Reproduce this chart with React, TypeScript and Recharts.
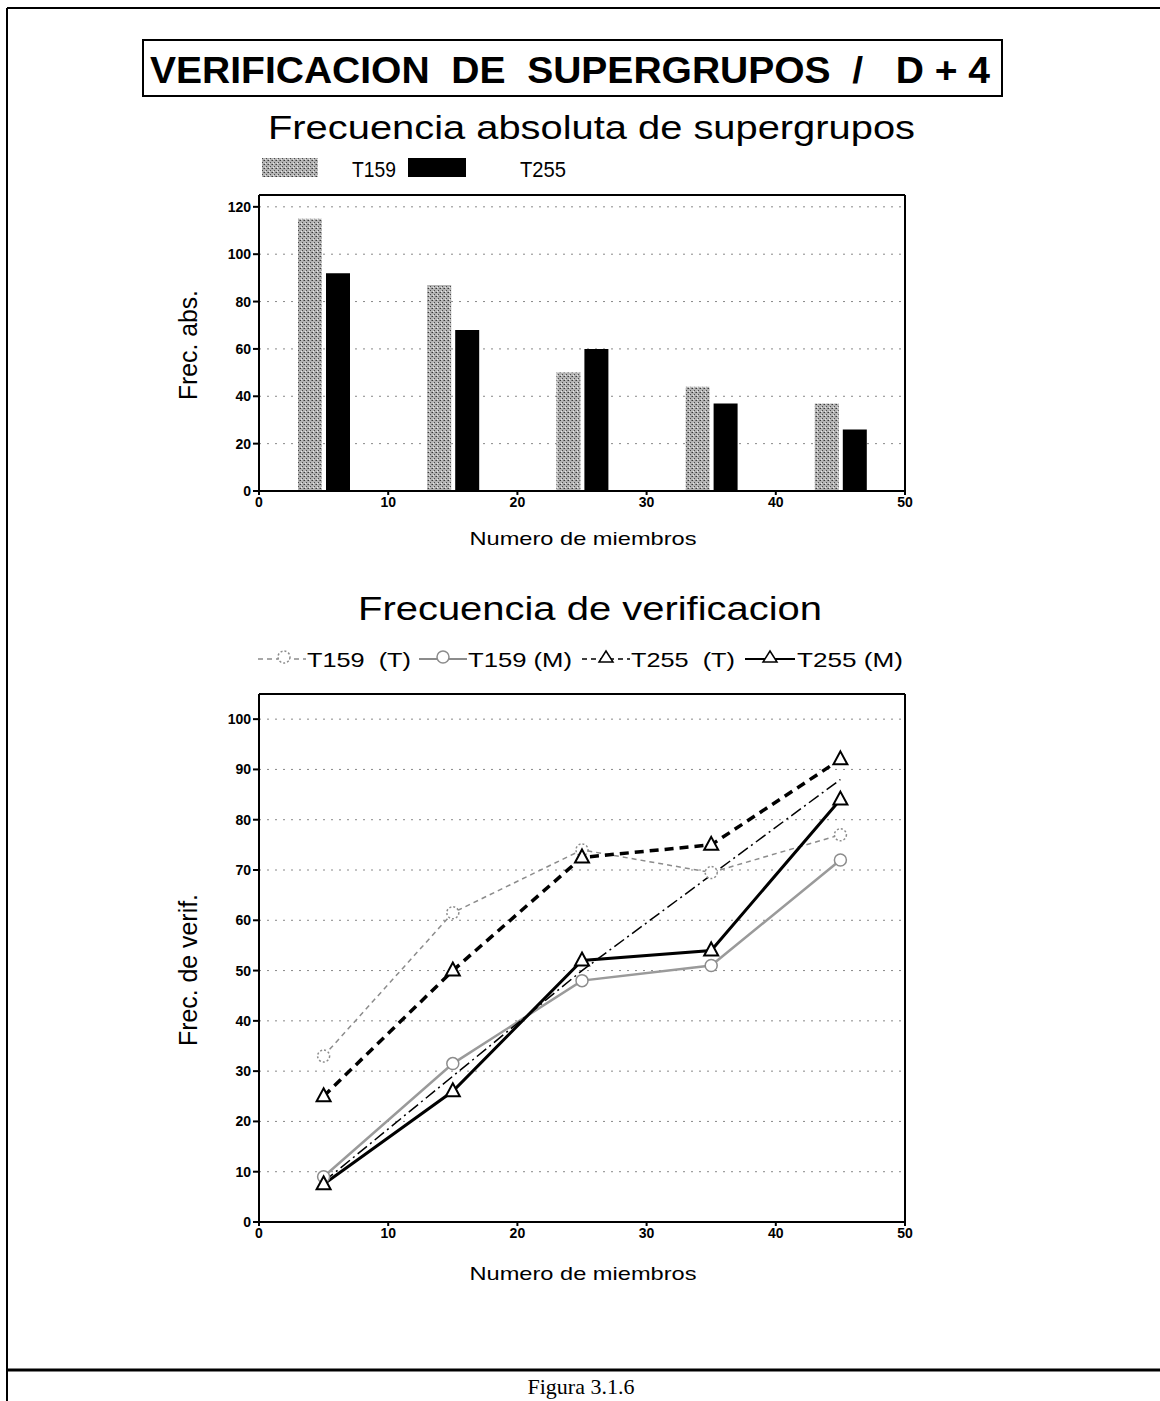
import React from 'react';
import { BarChart, Bar, LineChart, Line, XAxis, YAxis, CartesianGrid, ReferenceLine } from 'recharts';

// ---------- data ----------
const members = [5, 15, 25, 35, 45];
const absT159 = [115, 87, 50, 44, 37];
const absT255 = [92, 68, 60, 37, 26];
const xTicks = [0, 10, 20, 30, 40, 50];
const absTicks = [0, 20, 40, 60, 80, 100, 120];
const verTicks = [0, 10, 20, 30, 40, 50, 60, 70, 80, 90, 100];
const verT159T = [33, 61.5, 74, 69.5, 77];
const verT159M = [9, 31.5, 48, 51, 72];
const verT255T = [25, 50, 72.5, 75, 92];
const verT255M = [7.5, 26, 52, 54, 84];
const verTrend = [8, 29, 50, 69, 88];

const barData = members.map((m, i) => ({ x: m, T159: absT159[i], T255: absT255[i] }));
const lineData = members.map((m, i) => ({
  x: m,
  t159t: verT159T[i],
  t159m: verT159M[i],
  t255t: verT255T[i],
  t255m: verT255M[i],
  trend: verTrend[i],
}));

const tickStyle = { fontFamily: 'Arial, "Liberation Sans", sans-serif', fontWeight: 700, fontSize: 14, fill: '#000' };
const axisLine = { stroke: '#000', strokeWidth: 2 };

const CircleDot = (props: any) => {
  const { cx, cy, dashed, index } = props;
  if (cx == null || cy == null) return <g key={`c${index}`} />;
  return (
    <circle key={`c${index}`} cx={cx} cy={cy} r={6} fill="#fff" stroke="#8c8c8c" strokeWidth={1.5}
      strokeDasharray={dashed ? '2 2' : undefined} />
  );
};

const TriDot = (props: any) => {
  const { cx, cy, index } = props;
  if (cx == null || cy == null) return <g key={`t${index}`} />;
  return (
    <path key={`t${index}`} d={`M${cx},${cy - 8} L${cx + 7},${cy + 5} L${cx - 7},${cy + 5} Z`}
      fill="#fff" stroke="#000" strokeWidth={2} strokeLinejoin="miter" />
  );
};

const Stipple = ({ id }: { id: string }) => (
  <pattern id={id} width={4} height={4} patternUnits="userSpaceOnUse">
    <rect x={0} y={0} width={4} height={4} fill="#b4b4b4" />
    <rect x={0} y={0} width={1} height={1} fill="#3a3a3a" />
    <rect x={2} y={2} width={1} height={1} fill="#4a4a4a" />
    <rect x={3} y={0} width={1} height={1} fill="#7a7a7a" />
    <rect x={1} y={3} width={1} height={1} fill="#e8e8e8" />
  </pattern>
);

const sans = 'Arial, "Liberation Sans", Helvetica, sans-serif';

const Overlay = () => (
  <svg width={1160} height={1401} style={{ position: 'absolute', left: 0, top: 0, pointerEvents: 'none' }}>
    <defs>
      <Stipple id="stipLegend" />
    </defs>
    {/* outer frame */}
    <line x1={7} y1={8} x2={1160} y2={8} stroke="#000" strokeWidth={2} />
    <line x1={7} y1={8} x2={7} y2={1401} stroke="#000" strokeWidth={2} />
    <line x1={7} y1={1370} x2={1160} y2={1370} stroke="#000" strokeWidth={3} />
    {/* title box */}
    <rect x={143} y={40} width={859} height={56} fill="none" stroke="#000" strokeWidth={2} />
    <text x={150} y={83} fontFamily={sans} fontWeight={700} fontSize={36} textLength={840}
      lengthAdjust="spacingAndGlyphs" style={{ whiteSpace: 'pre' }}>
      {'VERIFICACION  DE  SUPERGRUPOS  /   D + 4'}
    </text>
    {/* bar chart title & legend */}
    <text x={268} y={139} fontFamily={sans} fontSize={34} textLength={647} lengthAdjust="spacingAndGlyphs">
      Frecuencia absoluta de supergrupos
    </text>
    <rect x={262} y={158} width={56} height={19} fill="url(#stipLegend)" />
    <text x={352} y={177} fontFamily={sans} fontSize={22} textLength={44} lengthAdjust="spacingAndGlyphs">T159</text>
    <rect x={408} y={158} width={58} height={19} fill="#000" />
    <text x={520} y={177} fontFamily={sans} fontSize={22} textLength={46} lengthAdjust="spacingAndGlyphs">T255</text>
    {/* bar chart axis titles */}
    <text x={583} y={545} textAnchor="middle" fontFamily={sans} fontSize={19} textLength={227} lengthAdjust="spacingAndGlyphs">
      Numero de miembros
    </text>
    <text x={197} y={345} textAnchor="middle" transform="rotate(-90 197 345)" fontFamily={sans} fontSize={25}
      textLength={110} lengthAdjust="spacingAndGlyphs">
      Frec. abs.
    </text>
    {/* line chart title & legend */}
    <text x={358} y={620} fontFamily={sans} fontSize={34} textLength={464} lengthAdjust="spacingAndGlyphs">
      Frecuencia de verificacion
    </text>
    {/* legend item 1: T159 (T) */}
    <line x1={258} y1={659} x2={306} y2={659} stroke="#8c8c8c" strokeWidth={1.5} strokeDasharray="5 4" />
    <circle cx={284} cy={657} r={6} fill="#fff" stroke="#8c8c8c" strokeWidth={1.5} strokeDasharray="2 2" />
    <text x={307} y={667} fontFamily={sans} fontSize={21} textLength={104} lengthAdjust="spacingAndGlyphs" style={{ whiteSpace: 'pre' }}>{'T159  (T)'}</text>
    {/* legend item 2: T159 (M) */}
    <line x1={419} y1={659} x2={467} y2={659} stroke="#8c8c8c" strokeWidth={2} />
    <circle cx={443} cy={657} r={6} fill="#fff" stroke="#8c8c8c" strokeWidth={1.5} />
    <text x={468} y={667} fontFamily={sans} fontSize={21} textLength={104} lengthAdjust="spacingAndGlyphs">T159 (M)</text>
    {/* legend item 3: T255 (T) */}
    <line x1={582} y1={659} x2={630} y2={659} stroke="#000" strokeWidth={1.5} strokeDasharray="5 4" />
    <path d="M606,651 L613,662 L599,662 Z" fill="#fff" stroke="#000" strokeWidth={1.5} />
    <text x={631} y={667} fontFamily={sans} fontSize={21} textLength={104} lengthAdjust="spacingAndGlyphs" style={{ whiteSpace: 'pre' }}>{'T255  (T)'}</text>
    {/* legend item 4: T255 (M) */}
    <line x1={745} y1={659} x2={795} y2={659} stroke="#000" strokeWidth={2} />
    <path d="M770,651 L777,662 L763,662 Z" fill="#fff" stroke="#000" strokeWidth={1.5} />
    <text x={797} y={667} fontFamily={sans} fontSize={21} textLength={106} lengthAdjust="spacingAndGlyphs">T255 (M)</text>
    {/* line chart axis titles */}
    <text x={583} y={1280} textAnchor="middle" fontFamily={sans} fontSize={19} textLength={227} lengthAdjust="spacingAndGlyphs">
      Numero de miembros
    </text>
    <text x={197} y={970} textAnchor="middle" transform="rotate(-90 197 970)" fontFamily={sans} fontSize={25}
      textLength={152} lengthAdjust="spacingAndGlyphs">
      Frec. de verif.
    </text>
    {/* caption */}
    <text x={581} y={1394} textAnchor="middle" fontFamily='"Liberation Serif", "Times New Roman", serif' fontSize={22}>
      Figura 3.1.6
    </text>
  </svg>
);

const AbsChart = () => (
  <div style={{ position: 'absolute', left: 0, top: 180 }}>
    <BarChart width={1160} height={350} data={barData} barGap={4}
      margin={{ top: 15, right: 255, bottom: 9, left: 209 }}>
      <defs>
        <Stipple id="stipBar" />
      </defs>
      <CartesianGrid vertical={false} stroke="#888" strokeDasharray="2 6" />
      <XAxis dataKey="x" type="number" domain={[0, 50]} ticks={xTicks} height={30}
        tick={tickStyle} axisLine={axisLine} tickLine={{ stroke: '#000', strokeWidth: 2 }} tickSize={4} interval={0} />
      <YAxis type="number" domain={[0, 125]} ticks={absTicks} width={50} tick={tickStyle}
        axisLine={axisLine} tickLine={{ stroke: '#000', strokeWidth: 2 }} tickSize={6} interval={0} />
      <ReferenceLine y={125} stroke="#000" strokeWidth={2} ifOverflow="visible" />
      <ReferenceLine x={50} stroke="#000" strokeWidth={2} ifOverflow="visible" />
      <Bar dataKey="T159" fill="url(#stipBar)" barSize={24} isAnimationActive={false} />
      <Bar dataKey="T255" fill="#000" barSize={24} isAnimationActive={false} />
    </BarChart>
  </div>
);

const VerChart = () => (
  <div style={{ position: 'absolute', left: 0, top: 680 }}>
    <LineChart width={1160} height={580} data={lineData}
      margin={{ top: 14, right: 255, bottom: 8, left: 209 }}>
      <CartesianGrid vertical={false} stroke="#888" strokeDasharray="2 6" />
      <XAxis dataKey="x" type="number" domain={[0, 50]} ticks={xTicks} height={30}
        tick={tickStyle} axisLine={axisLine} tickLine={{ stroke: '#000', strokeWidth: 2 }} tickSize={4} interval={0} />
      <YAxis type="number" domain={[0, 105]} ticks={verTicks} width={50} tick={tickStyle}
        axisLine={axisLine} tickLine={{ stroke: '#000', strokeWidth: 2 }} tickSize={6} interval={0} />
      <ReferenceLine y={105} stroke="#000" strokeWidth={2} ifOverflow="visible" />
      <ReferenceLine x={50} stroke="#000" strokeWidth={2} ifOverflow="visible" />
      <Line dataKey="t159t" stroke="#8c8c8c" strokeWidth={1.5} strokeDasharray="5 4"
        dot={(p: any) => <CircleDot {...p} key={`a${p.index}`} dashed />} isAnimationActive={false} />
      <Line dataKey="t159m" stroke="#9a9a9a" strokeWidth={2.5}
        dot={(p: any) => <CircleDot {...p} key={`b${p.index}`} />} isAnimationActive={false} />
      <Line dataKey="trend" stroke="#000" strokeWidth={1.5} strokeDasharray="12 4 2 4" dot={false}
        isAnimationActive={false} />
      <Line dataKey="t255t" stroke="#000" strokeWidth={3.5} strokeDasharray="9 6"
        dot={(p: any) => <TriDot {...p} key={`c${p.index}`} />} isAnimationActive={false} />
      <Line dataKey="t255m" stroke="#000" strokeWidth={3}
        dot={(p: any) => <TriDot {...p} key={`d${p.index}`} />} isAnimationActive={false} />
    </LineChart>
  </div>
);

export default function App() {
  return (
    <div style={{ position: 'absolute', left: 0, top: 0, width: 1160, height: 1401, background: '#fff', overflow: 'hidden' }}>
      <AbsChart />
      <VerChart />
      <Overlay />
    </div>
  );
}
